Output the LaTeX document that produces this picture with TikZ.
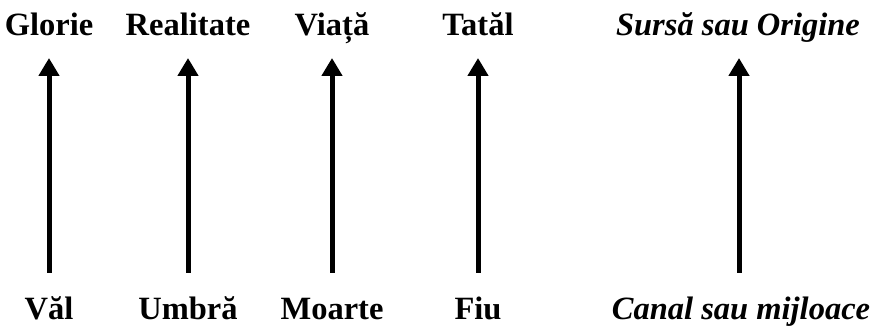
\documentclass[tikz,border=0pt]{standalone}
\usepackage{fontspec}
\setmainfont{Liberation Serif}
\usetikzlibrary{arrows.meta}
\begin{document}
\begin{tikzpicture}[x=1pt,y=1pt,
  lbl/.style={anchor=base,inner sep=0pt,font=\fontsize{32.5}{36}\selectfont\bfseries},
  ilbl/.style={lbl,font=\fontsize{32.5}{36}\selectfont\bfseries\itshape},
  uparrow/.style={line width=5pt,-{Triangle[width=20pt,length=18pt]}}]
\useasboundingbox (0,0) rectangle (872,326);
\foreach \i/\x/\top/\bot in {1/49/Glorie/Văl,2/188/Realitate/Umbră,3/332/Viață/Moarte,4/478/Tatăl/Fiu}{
  \node[lbl] (t\i) at (\x,290) {\top};
  \node[lbl] (b\i) at (\x,6) {\bot};
  \coordinate (s\i) at (\x,53);
  \coordinate (e\i) at (\x,268);
  \draw[uparrow] (s\i) -- (e\i);
}
\node[ilbl] (t5) at (738,290) {Sursă sau Origine};
\node[ilbl] (b5) at (741,6) {Canal sau mijloace};
\coordinate (s5) at (739,53);
\coordinate (e5) at (739,268);
\draw[uparrow] (s5) -- (e5);
\end{tikzpicture}
\end{document}
